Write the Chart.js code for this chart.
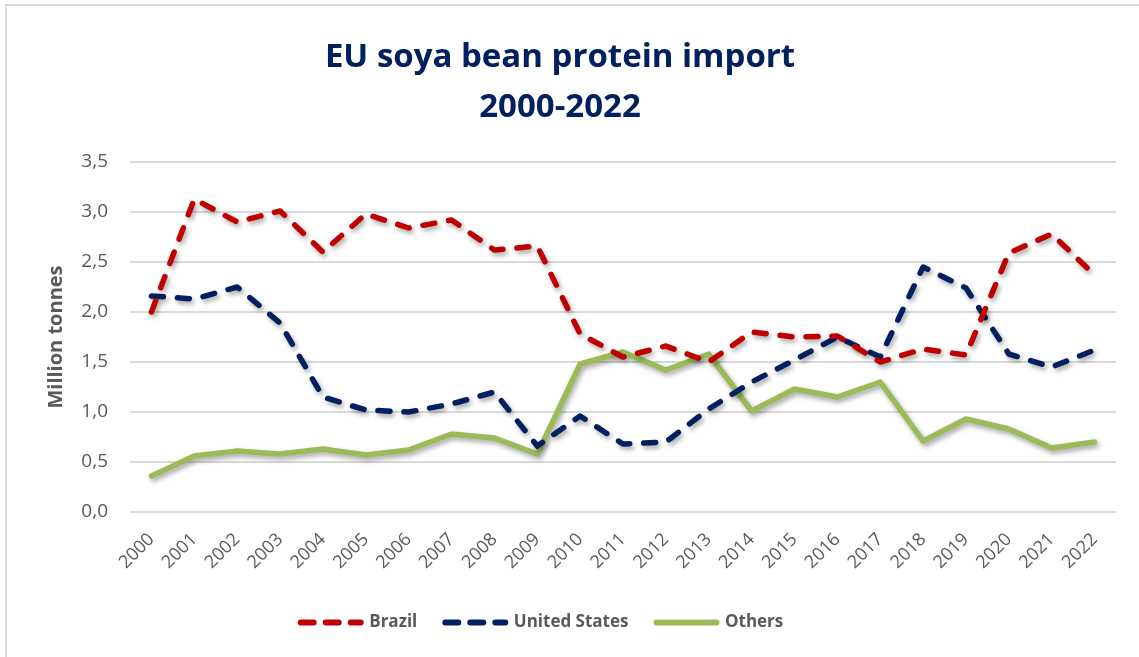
<!DOCTYPE html>
<html>
<head>
<meta charset="utf-8">
<script src="https://cdn.jsdelivr.net/npm/chart.js@4.4.1/dist/chart.umd.min.js"></script>
<style>
html,body{margin:0;padding:0;background:#fff;}
#wrap{position:absolute;left:0;top:0;width:1139px;height:657px;}
#frame{position:absolute;left:5px;top:4px;width:1160px;height:700px;border-left:2px solid #d9d9d9;border-top:2px solid #d9d9d9;}
canvas{position:absolute;left:0;top:0;}
</style>
</head>
<body>
<div id="wrap"><div id="frame"></div><canvas id="c" width="1139" height="657"></canvas></div>
<script>
const years = ['2000','2001','2002','2003','2004','2005','2006','2007','2008','2009','2010','2011','2012','2013','2014','2015','2016','2017','2018','2019','2020','2021','2022'];
const brazil = [2.00,3.13,2.90,3.01,2.60,2.98,2.84,2.92,2.62,2.66,1.78,1.55,1.66,1.50,1.80,1.75,1.76,1.50,1.63,1.57,2.59,2.78,2.37];
const unitedStates = [2.16,2.13,2.25,1.89,1.15,1.02,1.00,1.08,1.20,0.66,0.96,0.68,0.70,1.03,1.30,1.52,1.75,1.55,2.45,2.24,1.58,1.45,1.62];
const others = [0.36,0.56,0.61,0.58,0.63,0.57,0.62,0.78,0.74,0.58,1.48,1.60,1.42,1.58,1.01,1.23,1.15,1.30,0.71,0.93,0.83,0.64,0.70];
const yTicks = [0,0.5,1,1.5,2,2.5,3,3.5];

const FONT = '"Open Sans", Lato, sans-serif';
const shadowPlugin = {
  id: 'shadow',
  beforeDatasetDraw(chart){ const c=chart.ctx; c.save(); c.shadowColor='rgba(0,0,0,0.35)'; c.shadowBlur=5; c.shadowOffsetX=2; c.shadowOffsetY=3; },
  afterDatasetDraw(chart){ chart.ctx.restore(); }
};
const boxShift = {
  id: 'boxShift',
  afterLayout(chart){
    const l = chart.legend; if (l) { l.left -= 36; l.right -= 36; }
    const t = chart.titleBlock; if (t) { t.left -= 18; t.right -= 18; }
  }
};

new Chart(document.getElementById('c'), {
  type: 'line',
  data: {
    labels: years,
    datasets: [
      {label:'Brazil', data: brazil, borderColor:'#C00000', backgroundColor:'#C00000', borderWidth:5.5, borderDash:[12,14], borderCapStyle:'round', borderJoinStyle:'round', pointRadius:0, tension:0},
      {label:'United States', data: unitedStates, borderColor:'#002060', backgroundColor:'#002060', borderWidth:5.5, borderDash:[12,14], borderCapStyle:'round', borderJoinStyle:'round', pointRadius:0, tension:0},
      {label:'Others', data: others, borderColor:'#9BBB59', backgroundColor:'#9BBB59', borderWidth:5.5, borderCapStyle:'round', borderJoinStyle:'round', pointRadius:0, tension:0}
    ]
  },
  options: {
    responsive:false, animation:false,
    layout:{padding:{left:40, right:23, top:0, bottom:16}},
    plugins:{
      title:{display:true, text:['EU soya bean protein import','2000-2022'], color:'#002060', font:{family:FONT, size:33, weight:'bold', lineHeight:50/33}, padding:{top:33, bottom:29}},
      legend:{position:'bottom', labels:{
        usePointStyle:true, pointStyle:'line', pointStyleWidth:60, color:'#595959', font:{family:FONT, size:17, weight:'bold'}, padding:28,
        generateLabels(chart){
          return chart.data.datasets.map((ds,i)=>({
            text: ds.label, fillStyle: ds.borderColor, strokeStyle: ds.borderColor, fontColor:'#595959',
            lineWidth: 6, lineCap:'round', lineDash: ds.borderDash ? [13,12] : [], lineDashOffset:0,
            pointStyle:'line', hidden:false, datasetIndex:i
          }));
        }
      }},
      tooltip:{enabled:false}
    },
    scales:{
      x:{
        offset:true,
        grid:{display:false}, border:{display:false},
        ticks:{color:'#595959', font:{family:FONT, size:18}, minRotation:45, maxRotation:45, padding:9, autoSkip:false},
        afterFit(s){ s.height = 74; }
      },
      y:{
        min:0, max:3.5,
        afterBuildTicks(s){ s.ticks = yTicks.map(v=>({value:v})); },
        grid:{color:'#d9d9d9', lineWidth:2, drawTicks:false}, border:{display:false},
        ticks:{color:'#595959', font:{family:FONT, size:19}, padding:22, callback:(v)=>v.toFixed(1).replace('.',',')},
        title:{display:true, text:'Million tonnes', color:'#595959', font:{family:FONT, size:20, weight:'bold'}, padding:{bottom:6}},
        afterFit(s){ s.width = 90; }
      }
    }
  },
  plugins:[shadowPlugin, boxShift]
});
</script>
</body>
</html>
